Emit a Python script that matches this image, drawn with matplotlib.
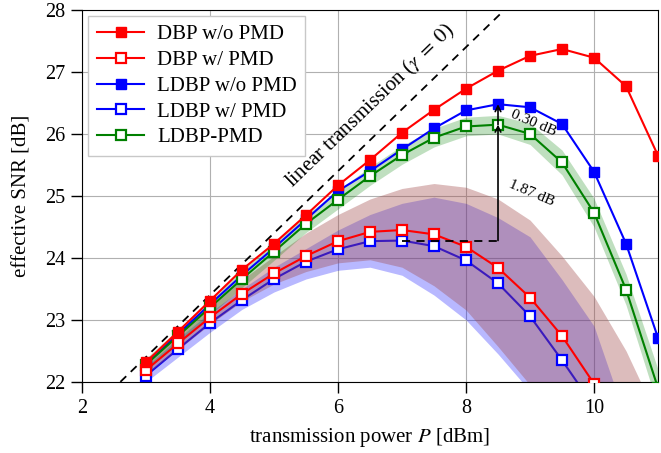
import matplotlib
matplotlib.use("Agg")
import matplotlib.pyplot as plt
from matplotlib.lines import Line2D

plt.rcParams['font.family'] = ['Liberation Serif', 'DejaVu Serif']
plt.rcParams['mathtext.fontset'] = 'stix'

# transmission power [dBm]
P = [3, 3.5, 4, 4.5, 5, 5.5, 6, 6.5, 7, 7.5, 8, 8.5, 9, 9.5, 10, 10.5, 11]

dbp_wo = [22.32, 22.81, 23.31, 23.81, 24.23, 24.69, 25.17, 25.58, 26.02, 26.39,
          26.73, 27.02, 27.26, 27.37, 27.23, 26.77, 25.65]
dbp_w = [22.19, 22.62, 23.04, 23.42, 23.75, 24.03, 24.27, 24.42, 24.45, 24.38,
         24.18, 23.84, 23.36, 22.74, 21.97, 21.1, 20.2]
ldbp_wo = [22.28, 22.77, 23.25, 23.72, 24.16, 24.62, 25.08, 25.4, 25.75, 26.09,
           26.38, 26.48, 26.43, 26.16, 25.39, 24.23, 22.71]
ldbp_w = [22.1, 22.53, 22.95, 23.32, 23.66, 23.94, 24.14, 24.27, 24.28, 24.19,
          23.96, 23.59, 23.06, 22.35, 21.6, 20.8, 20.0]
ldbp_pmd = [22.28, 22.74, 23.2, 23.66, 24.1, 24.55, 24.94, 25.32, 25.66, 25.94,
            26.12, 26.15, 26.0, 25.54, 24.73, 23.49, 21.9]

# spread over PMD realizations
dbp_w_hi = [22.35, 22.8, 23.22, 23.65, 24.03, 24.4, 24.7, 24.95, 25.12, 25.2,
            25.14, 24.95, 24.61, 24.03, 23.38, 22.5, 21.4]
dbp_w_lo = [22.12, 22.52, 22.93, 23.3, 23.58, 23.78, 23.92, 23.97, 23.85, 23.55,
            23.16, 22.57, 21.95, 21.2, 20.4, 19.5, 18.6]
ldbp_w_hi = [22.25, 22.7, 23.12, 23.5, 23.85, 24.15, 24.45, 24.7, 24.88, 24.98,
             24.88, 24.65, 24.34, 23.65, 22.9, 21.4, 20.3]
ldbp_w_lo = [22.0, 22.4, 22.8, 23.17, 23.45, 23.66, 23.8, 23.85, 23.72, 23.4,
             23.0, 22.45, 21.85, 21.1, 20.3, 19.4, 18.5]
ldbp_pmd_hi = [22.38, 22.85, 23.32, 23.8, 24.24, 24.69, 25.09, 25.47, 25.81, 26.09,
               26.27, 26.3, 26.17, 25.74, 24.96, 23.74, 22.2]
ldbp_pmd_lo = [22.18, 22.63, 23.08, 23.52, 23.96, 24.41, 24.79, 25.17, 25.51, 25.79,
               25.97, 26.0, 25.83, 25.34, 24.5, 23.24, 21.6]

# linear transmission (gamma = 0) reference
lin_P = [2.6, 8.8]
lin_snr = [22.0, 28.2]

fig = plt.figure(figsize=(6.61, 4.53), dpi=100)
ax = fig.add_axes([0.124, 0.157, 0.8715, 0.821])

brown = (0.63, 0.29, 0.29)
ax.fill_between(P, ldbp_w_lo, ldbp_w_hi, color='blue', alpha=0.28, lw=0, zorder=1)
ax.plot(P, ldbp_w, color='blue', lw=1.5, zorder=1.5)
ax.fill_between(P, dbp_w_lo, dbp_w_hi, color=brown, alpha=0.37, lw=0, zorder=2)
ax.fill_between(P, ldbp_pmd_lo, ldbp_pmd_hi, color='green', alpha=0.25, lw=0, zorder=2)

ax.plot(lin_P, lin_snr, 'k--', lw=1.3, dashes=(4.5, 3.5), zorder=3)

ms = 7.5
ax.plot(P, ldbp_w, color='blue', lw=0, marker='s', ms=ms, mfc='white', mew=1.6,
        zorder=4)
ax.plot(P, ldbp_wo, color='blue', lw=1.5, marker='s', ms=ms, zorder=4,
        label='LDBP w/o PMD')
ax.plot(P, ldbp_pmd, color='green', lw=1.5, marker='s', ms=ms, mfc='white', mew=1.6,
        zorder=5, label='LDBP-PMD')
ax.plot(P, dbp_w, color='red', lw=1.5, marker='s', ms=ms, mfc='white', mew=1.6,
        zorder=6, label='DBP w/ PMD')
ax.plot(P, dbp_wo, color='red', lw=1.5, marker='s', ms=ms, zorder=6,
        label='DBP w/o PMD')

# gain annotations
ax.plot([7, 8.58], [ldbp_w[8], ldbp_w[8]], 'k--', lw=1.3, dashes=(4.5, 3.5), zorder=7)
ax.annotate('', xy=(8.5, ldbp_pmd[11]), xytext=(8.5, ldbp_w[8]),
            arrowprops=dict(arrowstyle='->', color='black', lw=1.2,
                            shrinkA=0, shrinkB=0), zorder=7)
ax.annotate('', xy=(8.5, ldbp_wo[11]), xytext=(8.5, ldbp_pmd[11]),
            arrowprops=dict(arrowstyle='->', color='black', lw=1.2,
                            shrinkA=0, shrinkB=0), zorder=7)
ax.text(9.05, 26.17, '0.30 dB', fontsize=11, rotation=-23, ha='center', va='center',
        zorder=8)
ax.text(9.02, 25.05, '1.87 dB', fontsize=11, rotation=-23, ha='center', va='center',
        zorder=8)
ax.text(6.5, 26.45, r'linear transmission ($\gamma\;=\;0$)', fontsize=15,
        rotation=44, ha='center', va='center', rotation_mode='anchor', zorder=8)

ax.set_xlim(2, 11)
ax.set_ylim(22, 28)
ax.set_xticks([2, 4, 6, 8, 10])
ax.set_yticks([22, 23, 24, 25, 26, 27, 28])
ax.tick_params(labelsize=14.5, direction='out', length=8, width=1, pad=4)
ax.grid(True, color='#b0b0b0', lw=0.8)
ax.set_axisbelow(True)
ax.set_xlabel(r'transmission power $P$ [dBm]', fontsize=15, labelpad=6)
ax.set_ylabel('effective SNR [dB]', fontsize=15, labelpad=10)

h, l = ax.get_legend_handles_labels()
h_ldbp_w = Line2D([], [], color='blue', lw=1.5, marker='s', ms=ms, mfc='white', mew=1.6)
handles = [h[3], h[2], h[0], h_ldbp_w, h[1]]
labels = ['DBP w/o PMD', 'DBP w/ PMD', 'LDBP w/o PMD', 'LDBP w/ PMD', 'LDBP-PMD']
leg = ax.legend(handles, labels, loc='upper left', fontsize=15, fancybox=False,
                framealpha=1, edgecolor='#c8c8c8', borderaxespad=0.3,
                handlelength=2.3, labelspacing=0.3, borderpad=0.4, handletextpad=0.6)
leg.set_zorder(10)

fig.savefig('out.png', dpi=100)
